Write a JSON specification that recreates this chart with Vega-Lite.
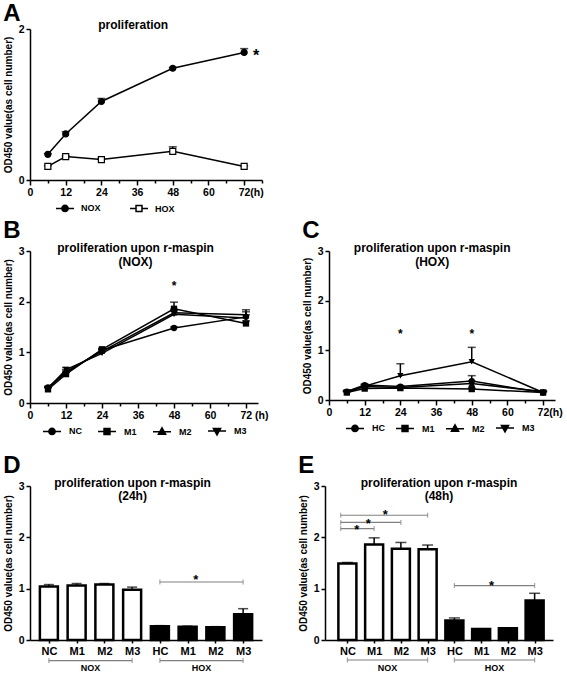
{
  "$schema": "https://vega.github.io/schema/vega-lite/v6.json",
  "padding": {"left": 3, "top": 2, "right": 0, "bottom": 0},
  "background": "white",
  "spacing": 4,
  "resolve": {"scale": {"shape": "independent", "fill": "independent"}, "legend": {"shape": "independent", "fill": "independent"}},
  "config": {
    "font": "Liberation Sans",
    "view": {"stroke": null},
    "title": {"fontSize": 12, "fontWeight": "bold", "color": "black", "font": "Liberation Sans"},
    "axis": {"domainColor": "black", "domainWidth": 1.5, "tickColor": "black", "tickWidth": 1.5, "tickSize": 4, "labelColor": "black", "labelFontSize": 10.5, "labelFontWeight": "bold", "labelPadding": 2, "titleColor": "black", "titleFontSize": 10, "titleFontWeight": "bold", "titlePadding": 5, "grid": false, "labelFont": "Liberation Sans", "titleFont": "Liberation Sans"},
    "legend": {"labelFontSize": 9, "labelFontWeight": "bold", "labelColor": "black", "labelFont": "Liberation Sans", "titleFontSize": 9, "symbolOpacity": 1}
  },
  "datasets": {
    "lineA": [
      {"time": 6, "series": "NOX", "mean": 0.34, "upper": 0.35},
      {"time": 12, "series": "NOX", "mean": 0.61, "upper": 0.64},
      {"time": 24, "series": "NOX", "mean": 1.04, "upper": 1.08},
      {"time": 48, "series": "NOX", "mean": 1.48, "upper": 1.49},
      {"time": 72, "series": "NOX", "mean": 1.69, "upper": 1.74},
      {"time": 6, "series": "HOX", "mean": 0.18, "upper": 0.19},
      {"time": 12, "series": "HOX", "mean": 0.31, "upper": 0.32},
      {"time": 24, "series": "HOX", "mean": 0.27, "upper": 0.28},
      {"time": 48, "series": "HOX", "mean": 0.38, "upper": 0.44},
      {"time": 72, "series": "HOX", "mean": 0.18, "upper": 0.19}
    ],
    "starsA": [{"time": 76, "y": 1.58, "t": "*"}],
    "lineB": [
      {"time": 6, "series": "NC", "mean": 0.31, "upper": 0.33},
      {"time": 12, "series": "NC", "mean": 0.60, "upper": 0.63},
      {"time": 24, "series": "NC", "mean": 1.04, "upper": 1.06},
      {"time": 48, "series": "NC", "mean": 1.48, "upper": 1.50},
      {"time": 72, "series": "NC", "mean": 1.70, "upper": 1.74},
      {"time": 6, "series": "M1", "mean": 0.27, "upper": 0.30},
      {"time": 12, "series": "M1", "mean": 0.57, "upper": 0.60},
      {"time": 24, "series": "M1", "mean": 1.06, "upper": 1.08},
      {"time": 48, "series": "M1", "mean": 1.86, "upper": 1.99},
      {"time": 72, "series": "M1", "mean": 1.57, "upper": 1.62},
      {"time": 6, "series": "M2", "mean": 0.30, "upper": 0.32},
      {"time": 12, "series": "M2", "mean": 0.62, "upper": 0.66},
      {"time": 24, "series": "M2", "mean": 1.02, "upper": 1.05},
      {"time": 48, "series": "M2", "mean": 1.78, "upper": 1.85},
      {"time": 72, "series": "M2", "mean": 1.74, "upper": 1.80},
      {"time": 6, "series": "M3", "mean": 0.29, "upper": 0.31},
      {"time": 12, "series": "M3", "mean": 0.66, "upper": 0.70},
      {"time": 24, "series": "M3", "mean": 0.98, "upper": 1.01},
      {"time": 48, "series": "M3", "mean": 1.75, "upper": 1.82},
      {"time": 72, "series": "M3", "mean": 1.68, "upper": 1.84}
    ],
    "starsB": [{"time": 48, "y": 2.23, "t": "*"}],
    "lineC": [
      {"time": 6, "series": "HC", "mean": 0.17, "upper": 0.19},
      {"time": 12, "series": "HC", "mean": 0.30, "upper": 0.32},
      {"time": 24, "series": "HC", "mean": 0.27, "upper": 0.29},
      {"time": 48, "series": "HC", "mean": 0.38, "upper": 0.49},
      {"time": 72, "series": "HC", "mean": 0.15, "upper": 0.17},
      {"time": 6, "series": "M1", "mean": 0.15, "upper": 0.17},
      {"time": 12, "series": "M1", "mean": 0.23, "upper": 0.25},
      {"time": 24, "series": "M1", "mean": 0.24, "upper": 0.26},
      {"time": 48, "series": "M1", "mean": 0.22, "upper": 0.24},
      {"time": 72, "series": "M1", "mean": 0.15, "upper": 0.17},
      {"time": 6, "series": "M2", "mean": 0.17, "upper": 0.19},
      {"time": 12, "series": "M2", "mean": 0.27, "upper": 0.29},
      {"time": 24, "series": "M2", "mean": 0.25, "upper": 0.27},
      {"time": 48, "series": "M2", "mean": 0.33, "upper": 0.38},
      {"time": 72, "series": "M2", "mean": 0.17, "upper": 0.19},
      {"time": 6, "series": "M3", "mean": 0.15, "upper": 0.17},
      {"time": 12, "series": "M3", "mean": 0.28, "upper": 0.31},
      {"time": 24, "series": "M3", "mean": 0.49, "upper": 0.73},
      {"time": 48, "series": "M3", "mean": 0.77, "upper": 1.06},
      {"time": 72, "series": "M3", "mean": 0.15, "upper": 0.17}
    ],
    "starsC": [{"time": 24, "y": 1.24, "t": "*"}, {"time": 48, "y": 1.24, "t": "*"}],
    "barD": [
      {"pos": 1, "group": "NOX", "cond": "NC", "mean": 1.04, "upper": 1.08},
      {"pos": 2, "group": "NOX", "cond": "M1", "mean": 1.06, "upper": 1.10},
      {"pos": 3, "group": "NOX", "cond": "M2", "mean": 1.08, "upper": 1.10},
      {"pos": 4, "group": "NOX", "cond": "M3", "mean": 0.98, "upper": 1.03},
      {"pos": 5, "group": "HOX", "cond": "HC", "mean": 0.27, "upper": 0.28},
      {"pos": 6, "group": "HOX", "cond": "M1", "mean": 0.26, "upper": 0.27},
      {"pos": 7, "group": "HOX", "cond": "M2", "mean": 0.25, "upper": 0.26},
      {"pos": 8, "group": "HOX", "cond": "M3", "mean": 0.50, "upper": 0.61}
    ],
    "bracketsD": [
      {"x1": 5, "x2": 8, "y": 1.13},
      {"x1": 1, "x2": 4, "y": -0.40},
      {"x1": 5, "x2": 8, "y": -0.40}
    ],
    "starsD": [{"x": 6.29, "y": 1.09, "t": "*"}],
    "groupLabels": [{"x": 2.5, "y": -0.6, "t": "NOX"}, {"x": 6.5, "y": -0.6, "t": "HOX"}],
    "barE": [
      {"pos": 1, "group": "NOX", "cond": "NC", "mean": 1.49, "upper": 1.51},
      {"pos": 2, "group": "NOX", "cond": "M1", "mean": 1.86, "upper": 1.99},
      {"pos": 3, "group": "NOX", "cond": "M2", "mean": 1.78, "upper": 1.90},
      {"pos": 4, "group": "NOX", "cond": "M3", "mean": 1.77, "upper": 1.85},
      {"pos": 5, "group": "HOX", "cond": "HC", "mean": 0.38, "upper": 0.43},
      {"pos": 6, "group": "HOX", "cond": "M1", "mean": 0.215, "upper": 0.22},
      {"pos": 7, "group": "HOX", "cond": "M2", "mean": 0.23, "upper": 0.235},
      {"pos": 8, "group": "HOX", "cond": "M3", "mean": 0.77, "upper": 0.91}
    ],
    "bracketsE": [
      {"x1": 0.75, "x2": 2, "y": 2.17},
      {"x1": 0.75, "x2": 3, "y": 2.29},
      {"x1": 0.75, "x2": 4, "y": 2.43},
      {"x1": 5, "x2": 8, "y": 1.06},
      {"x1": 1, "x2": 4, "y": -0.39},
      {"x1": 5, "x2": 8, "y": -0.39}
    ],
    "starsE": [
      {"x": 1.35, "y": 2.07, "t": "*"},
      {"x": 1.78, "y": 2.19, "t": "*"},
      {"x": 2.42, "y": 2.36, "t": "*"},
      {"x": 6.39, "y": 0.98, "t": "*"}
    ]
  },
  "vconcat": [
    {
      "title": {"text": "A", "anchor": "start", "frame": "bounds", "fontSize": 24, "offset": -7},
      "resolve": {"scale": {"shape": "independent", "fill": "independent"}, "legend": {"shape": "independent", "fill": "independent"}},
      "vconcat": [
        {
          "width": 232, "height": 151,
          "title": {"text": "proliferation", "frame": "bounds", "offset": -8},
          "data": {"name": "lineA"},
          "resolve": {"scale": {"shape": "independent", "fill": "independent"}, "legend": {"shape": "independent", "fill": "independent"}},
          "encoding": {
            "x": {"field": "time", "type": "quantitative", "scale": {"domain": [0, 78], "nice": false, "zero": false},
              "axis": {"title": null, "values": [0, 6, 12, 18, 24, 30, 36, 42, 48, 54, 60, 66, 72, 78], "labelExpr": "datum.value % 12 == 0 ? (datum.value == 72 ? '72(h)' : datum.label) : ''", "labelAlign": {"condition": {"test": "datum.value == 72", "value": "left"}, "value": "center"}, "labelOffset": {"condition": {"test": "datum.value == 72", "value": -6}, "value": 0}, "tickSize": {"condition": {"test": "datum.value % 12 == 0", "value": 5}, "value": 3}, "labelFlush": false, "labelOverlap": false}},
            "y": {"field": "mean", "type": "quantitative", "scale": {"domain": [0, 2], "nice": false}, "axis": {"values": [0, 1, 2], "format": "d", "title": "OD450 value(as cell number)"}}
          },
          "layer": [
            {"mark": {"type": "line", "color": "black", "strokeWidth": 1.5}, "encoding": {"detail": {"field": "series"}}},
            {"mark": {"type": "rule", "color": "black", "strokeWidth": 1.5}, "encoding": {"y2": {"field": "upper"}}},
            {"mark": {"type": "tick", "orient": "horizontal", "color": "black", "thickness": 1.5, "size": 8}, "encoding": {"y": {"field": "upper", "type": "quantitative"}}},
            {"mark": {"type": "point", "filled": true, "stroke": "black", "strokeWidth": 1.2, "size": 12, "opacity": 1},
              "encoding": {
                "shape": {"field": "series", "type": "nominal", "scale": {"domain": ["NOX", "HOX"], "range": ["M-1,0H1M-0.35,0A0.35,0.35 0 1,0 0.35,0A0.35,0.35 0 1,0 -0.35,0Z", "M-1,0H-0.33M0.33,0H1M-0.33,-0.33H0.33V0.33H-0.33Z"]},
                  "legend": {"orient": "bottom", "direction": "horizontal", "title": " ", "titleOrient": "left", "titlePadding": 25, "symbolSize": 324, "labelOffset": 6, "columnPadding": 26, "offset": 0}},
                "fill": {"field": "series", "type": "nominal", "scale": {"domain": ["NOX", "HOX"], "range": ["black", "white"]},
                  "legend": {"orient": "bottom", "direction": "horizontal", "title": " ", "titleOrient": "left", "titlePadding": 25, "symbolSize": 324, "labelOffset": 6, "columnPadding": 26, "offset": 0}}
              }},
            {"mark": {"type": "point", "filled": true, "stroke": "black", "strokeWidth": 1.2, "size": 36, "opacity": 1},
              "encoding": {
                "shape": {"field": "series", "type": "nominal", "scale": {"domain": ["NOX", "HOX"], "range": ["circle", "square"]}, "legend": null},
                "fill": {"field": "series", "type": "nominal", "scale": {"domain": ["NOX", "HOX"], "range": ["black", "white"]}, "legend": null}
              }},
            {"data": {"name": "starsA"}, "mark": {"type": "text", "fontSize": 16, "fontWeight": "bold", "color": "black", "baseline": "alphabetic"}, "encoding": {"y": {"field": "y", "type": "quantitative"}, "text": {"field": "t"}}}
          ]
        }
      ]
    },
    {
      "spacing": 16,
      "resolve": {"scale": {"shape": "independent", "fill": "independent"}, "legend": {"shape": "independent", "fill": "independent"}},
      "vconcat": [
        {
          "spacing": 33,
          "resolve": {"scale": {"shape": "independent", "fill": "independent"}, "legend": {"shape": "independent", "fill": "independent"}},
          "hconcat": [
            {
              "title": {"text": "B", "anchor": "start", "frame": "bounds", "fontSize": 24, "offset": -1},
              "resolve": {"scale": {"shape": "independent"}, "legend": {"shape": "independent"}},
              "vconcat": [
                {
                  "width": 228, "height": 152,
                  "title": {"text": ["proliferation upon r-maspin", "(NOX)"], "frame": "bounds", "offset": -23, "lineHeight": 14},
                  "data": {"name": "lineB"},
                  "resolve": {"scale": {"shape": "independent"}, "legend": {"shape": "independent"}},
                  "encoding": {
                    "x": {"field": "time", "type": "quantitative", "scale": {"domain": [0, 76], "nice": false, "zero": false},
                      "axis": {"title": null, "values": [0, 6, 12, 18, 24, 30, 36, 42, 48, 54, 60, 66, 72], "labelExpr": "datum.value % 12 == 0 ? (datum.value == 72 ? '72 (h)' : datum.label) : ''", "labelAlign": {"condition": {"test": "datum.value == 72", "value": "left"}, "value": "center"}, "labelOffset": {"condition": {"test": "datum.value == 72", "value": -6}, "value": 0}, "tickSize": {"condition": {"test": "datum.value % 12 == 0", "value": 5}, "value": 3}, "labelFlush": false, "labelOverlap": false}},
                    "y": {"field": "mean", "type": "quantitative", "scale": {"domain": [0, 3], "nice": false}, "axis": {"values": [0, 1, 2, 3], "format": "d", "title": "OD450 value(as cell number)"}}
                  },
                  "layer": [
                    {"mark": {"type": "line", "color": "black", "strokeWidth": 1.5}, "encoding": {"detail": {"field": "series"}}},
                    {"mark": {"type": "rule", "color": "black", "strokeWidth": 1.5}, "encoding": {"y2": {"field": "upper"}}},
                    {"mark": {"type": "tick", "orient": "horizontal", "color": "black", "thickness": 1.5, "size": 8}, "encoding": {"y": {"field": "upper", "type": "quantitative"}}},
                    {"mark": {"type": "point", "filled": true, "color": "black", "stroke": "black", "strokeWidth": 1.5, "size": 12, "opacity": 1},
                      "encoding": {"shape": {"field": "series", "type": "nominal", "scale": {"domain": ["NC", "M1", "M2", "M3"], "range": ["M-1,0H1M-0.35,0A0.35,0.35 0 1,0 0.35,0A0.35,0.35 0 1,0 -0.35,0Z", "M-1,0H1M-0.33,-0.33H0.33V0.33H-0.33Z", "M-1,0H1M0,-0.42L0.4,0.3H-0.4Z", "M-1,0H1M0,0.42L0.4,-0.3H-0.4Z"]},
                        "legend": {"orient": "bottom", "direction": "horizontal", "title": " ", "titleOrient": "left", "titlePadding": 12, "symbolSize": 324, "labelOffset": 7, "columnPadding": 13, "offset": 0}}}},
                    {"mark": {"type": "point", "filled": true, "color": "black", "size": 40, "opacity": 1},
                      "encoding": {"shape": {"field": "series", "type": "nominal", "scale": {"domain": ["NC", "M1", "M2", "M3"], "range": ["circle", "square", "triangle-up", "triangle-down"]}, "legend": null}}},
                    {"data": {"name": "starsB"}, "mark": {"type": "text", "fontSize": 12, "fontWeight": "bold", "color": "black", "baseline": "alphabetic"}, "encoding": {"y": {"field": "y", "type": "quantitative"}, "text": {"field": "t"}}}
                  ]
                }
              ]
            },
            {
              "title": {"text": "C", "anchor": "start", "frame": "bounds", "fontSize": 24, "offset": -1},
              "resolve": {"scale": {"shape": "independent"}, "legend": {"shape": "independent"}},
              "vconcat": [
                {
                  "width": 226, "height": 149,
                  "title": {"text": ["proliferation upon r-maspin", "(HOX)"], "frame": "bounds", "offset": -23, "lineHeight": 14},
                  "data": {"name": "lineC"},
                  "resolve": {"scale": {"shape": "independent"}, "legend": {"shape": "independent"}},
                  "encoding": {
                    "x": {"field": "time", "type": "quantitative", "scale": {"domain": [0, 76], "nice": false, "zero": false},
                      "axis": {"title": null, "values": [0, 6, 12, 18, 24, 30, 36, 42, 48, 54, 60, 66, 72], "labelExpr": "datum.value % 12 == 0 ? (datum.value == 72 ? '72(h)' : datum.label) : ''", "labelAlign": {"condition": {"test": "datum.value == 72", "value": "left"}, "value": "center"}, "labelOffset": {"condition": {"test": "datum.value == 72", "value": -6}, "value": 0}, "tickSize": {"condition": {"test": "datum.value % 12 == 0", "value": 5}, "value": 3}, "labelFlush": false, "labelOverlap": false}},
                    "y": {"field": "mean", "type": "quantitative", "scale": {"domain": [0, 3], "nice": false}, "axis": {"values": [0, 1, 2, 3], "format": "d", "title": "OD450 value(as cell number)"}}
                  },
                  "layer": [
                    {"mark": {"type": "line", "color": "black", "strokeWidth": 1.5}, "encoding": {"detail": {"field": "series"}}},
                    {"mark": {"type": "rule", "color": "black", "strokeWidth": 1.5}, "encoding": {"y2": {"field": "upper"}}},
                    {"mark": {"type": "tick", "orient": "horizontal", "color": "black", "thickness": 1.5, "size": 8}, "encoding": {"y": {"field": "upper", "type": "quantitative"}}},
                    {"mark": {"type": "point", "filled": true, "color": "black", "stroke": "black", "strokeWidth": 1.5, "size": 12, "opacity": 1},
                      "encoding": {"shape": {"field": "series", "type": "nominal", "scale": {"domain": ["HC", "M1", "M2", "M3"], "range": ["M-1,0H1M-0.35,0A0.35,0.35 0 1,0 0.35,0A0.35,0.35 0 1,0 -0.35,0Z", "M-1,0H1M-0.33,-0.33H0.33V0.33H-0.33Z", "M-1,0H1M0,-0.42L0.4,0.3H-0.4Z", "M-1,0H1M0,0.42L0.4,-0.3H-0.4Z"]},
                        "legend": {"orient": "bottom", "direction": "horizontal", "title": " ", "titleOrient": "left", "titlePadding": 16, "symbolSize": 324, "labelOffset": 7, "columnPadding": 8, "offset": 0}}}},
                    {"mark": {"type": "point", "filled": true, "color": "black", "size": 40, "opacity": 1},
                      "encoding": {"shape": {"field": "series", "type": "nominal", "scale": {"domain": ["HC", "M1", "M2", "M3"], "range": ["circle", "square", "triangle-up", "triangle-down"]}, "legend": null}}},
                    {"data": {"name": "starsC"}, "mark": {"type": "text", "fontSize": 12, "fontWeight": "bold", "color": "black", "baseline": "alphabetic"}, "encoding": {"y": {"field": "y", "type": "quantitative"}, "text": {"field": "t"}}}
                  ]
                }
              ]
            }
          ]
        },
        {
          "spacing": 36,
          "resolve": {"scale": {"fill": "independent"}, "legend": {"fill": "independent"}},
          "hconcat": [
            {
              "title": {"text": "D", "anchor": "start", "frame": "bounds", "fontSize": 24, "offset": -1},
              "resolve": {"scale": {"fill": "independent"}, "legend": {"fill": "independent"}},
              "vconcat": [
                {
                  "width": 232, "height": 154,
                  "title": {"text": ["proliferation upon r-maspin", "(24h)"], "frame": "bounds", "offset": -22, "lineHeight": 13},
                  "encoding": {
                    "x": {"field": "pos", "type": "quantitative", "scale": {"domain": [0.5, 8.5], "nice": false, "zero": false},
                      "axis": {"title": null, "values": [1, 2, 3, 4, 5, 6, 7, 8], "labelExpr": "['','NC','M1','M2','M3','HC','M1','M2','M3'][datum.value]", "labelFontSize": 11, "tickSize": 3, "labelOverlap": false, "labelFlush": false}},
                    "y": {"field": "mean", "type": "quantitative", "scale": {"domain": [0, 3], "nice": false}, "axis": {"values": [0, 1, 2, 3], "format": "d", "title": "OD450 value(as cell number)"}}
                  },
                  "layer": [
                    {"data": {"name": "barD"}, "mark": {"type": "bar", "orient": "vertical", "width": 18, "stroke": "black", "strokeWidth": 2.5},
                      "encoding": {"fill": {"field": "group", "type": "nominal", "scale": {"domain": ["NOX", "HOX"], "range": ["white", "black"]}, "legend": null}}},
                    {"data": {"name": "barD"}, "mark": {"type": "rule", "color": "black", "strokeWidth": 1.5}, "encoding": {"y2": {"field": "upper"}}},
                    {"data": {"name": "barD"}, "mark": {"type": "tick", "orient": "horizontal", "color": "black", "thickness": 1.5, "size": 10}, "encoding": {"y": {"field": "upper", "type": "quantitative"}}},
                    {"data": {"name": "bracketsD"}, "mark": {"type": "rule", "color": "#808080", "strokeWidth": 1.2}, "encoding": {"x": {"field": "x1", "type": "quantitative"}, "x2": {"field": "x2"}, "y": {"field": "y", "type": "quantitative"}}},
                    {"data": {"name": "bracketsD"}, "mark": {"type": "tick", "orient": "vertical", "color": "#808080", "thickness": 1.2, "size": 5}, "encoding": {"x": {"field": "x1", "type": "quantitative"}, "y": {"field": "y", "type": "quantitative"}}},
                    {"data": {"name": "bracketsD"}, "mark": {"type": "tick", "orient": "vertical", "color": "#808080", "thickness": 1.2, "size": 5}, "encoding": {"x": {"field": "x2", "type": "quantitative"}, "y": {"field": "y", "type": "quantitative"}}},
                    {"data": {"name": "starsD"}, "mark": {"type": "text", "fontSize": 13, "fontWeight": "bold", "color": "black", "baseline": "alphabetic"}, "encoding": {"x": {"field": "x", "type": "quantitative"}, "y": {"field": "y", "type": "quantitative"}, "text": {"field": "t"}}},
                    {"data": {"name": "groupLabels"}, "mark": {"type": "text", "fontSize": 9, "fontWeight": "bold", "color": "black", "baseline": "alphabetic"}, "encoding": {"x": {"field": "x", "type": "quantitative"}, "y": {"field": "y", "type": "quantitative"}, "text": {"field": "t"}}}
                  ]
                }
              ]
            },
            {
              "title": {"text": "E", "anchor": "start", "frame": "bounds", "fontSize": 24, "offset": -1},
              "resolve": {"scale": {"fill": "independent"}, "legend": {"fill": "independent"}},
              "vconcat": [
                {
                  "width": 228, "height": 154,
                  "title": {"text": ["proliferation upon r-maspin", "(48h)"], "frame": "group", "offset": -22, "lineHeight": 13},
                  "encoding": {
                    "x": {"field": "pos", "type": "quantitative", "scale": {"domain": [0.35, 8.5], "nice": false, "zero": false},
                      "axis": {"title": null, "values": [1, 2, 3, 4, 5, 6, 7, 8], "labelExpr": "['','NC','M1','M2','M3','HC','M1','M2','M3'][datum.value]", "labelFontSize": 11, "tickSize": 3, "labelOverlap": false, "labelFlush": false}},
                    "y": {"field": "mean", "type": "quantitative", "scale": {"domain": [0, 3], "nice": false}, "axis": {"values": [0, 1, 2, 3], "format": "d", "title": "OD450 value(as cell number)"}}
                  },
                  "layer": [
                    {"data": {"name": "barE"}, "mark": {"type": "bar", "orient": "vertical", "width": 18, "stroke": "black", "strokeWidth": 2.5},
                      "encoding": {"fill": {"field": "group", "type": "nominal", "scale": {"domain": ["NOX", "HOX"], "range": ["white", "black"]}, "legend": null}}},
                    {"data": {"name": "barE"}, "mark": {"type": "rule", "color": "black", "strokeWidth": 1.5}, "encoding": {"y2": {"field": "upper"}}},
                    {"data": {"name": "barE"}, "mark": {"type": "tick", "orient": "horizontal", "color": "black", "thickness": 1.5, "size": 11}, "encoding": {"y": {"field": "upper", "type": "quantitative"}}},
                    {"data": {"name": "bracketsE"}, "mark": {"type": "rule", "color": "#808080", "strokeWidth": 1.2}, "encoding": {"x": {"field": "x1", "type": "quantitative"}, "x2": {"field": "x2"}, "y": {"field": "y", "type": "quantitative"}}},
                    {"data": {"name": "bracketsE"}, "mark": {"type": "tick", "orient": "vertical", "color": "#808080", "thickness": 1.2, "size": 5}, "encoding": {"x": {"field": "x1", "type": "quantitative"}, "y": {"field": "y", "type": "quantitative"}}},
                    {"data": {"name": "bracketsE"}, "mark": {"type": "tick", "orient": "vertical", "color": "#808080", "thickness": 1.2, "size": 5}, "encoding": {"x": {"field": "x2", "type": "quantitative"}, "y": {"field": "y", "type": "quantitative"}}},
                    {"data": {"name": "starsE"}, "mark": {"type": "text", "fontSize": 13, "fontWeight": "bold", "color": "black", "baseline": "alphabetic"}, "encoding": {"x": {"field": "x", "type": "quantitative"}, "y": {"field": "y", "type": "quantitative"}, "text": {"field": "t"}}},
                    {"data": {"name": "groupLabels"}, "mark": {"type": "text", "fontSize": 9, "fontWeight": "bold", "color": "black", "baseline": "alphabetic"}, "encoding": {"x": {"field": "x", "type": "quantitative"}, "y": {"field": "y", "type": "quantitative"}, "text": {"field": "t"}}}
                  ]
                }
              ]
            }
          ]
        }
      ]
    }
  ]
}
